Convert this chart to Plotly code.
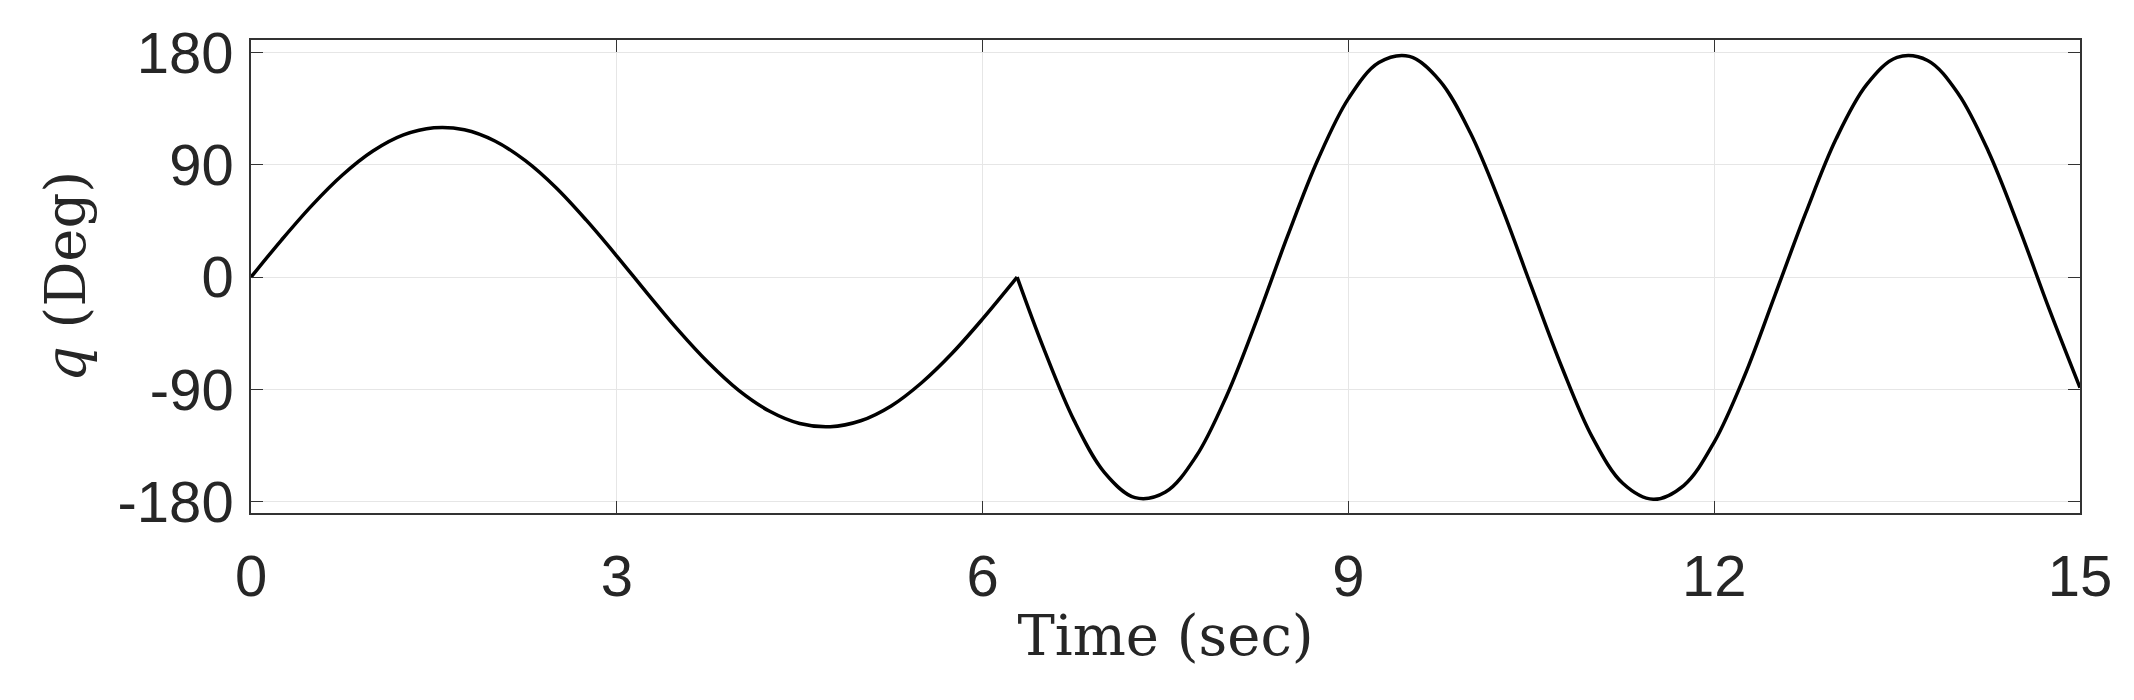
import plotly.graph_objects as go

t = [0, .25, .5, .75, 1, 1.25, 1.5, 1.75, 2, 2.25, 2.5, 2.75, 3, 3.25, 3.5, 3.75, 4, 4.25, 4.5, 4.75,
     5, 5.25, 5.5, 5.75, 6, 6.25, 6.283,
     6.5, 6.75, 7, 7.25, 7.5, 7.75, 8, 8.25, 8.5, 8.75, 9, 9.25, 9.5, 9.75, 10, 10.25, 10.5, 10.75,
     11, 11.25, 11.5, 11.75, 12, 12.25, 12.5, 12.75, 13, 13.25, 13.5, 13.75, 14, 14.25, 14.5, 14.75, 15]
q = [0, 29.7, 57.5, 81.8, 101, 113.9, 119.7, 118.1, 109.1, 93.3, 71.8, 45.6, 16.9, -13.0, -42.1, -68.5,
     -90.8, -107.3, -117.3, -119.9, -115.1, -103.2, -84.6, -61.0, -33.5, -4.0, 0,
     -56.9, -114.8, -156.6, -176.7, -172.2, -143.8, -95.4, -33.8, 32.6, 94.2, 143.0, 171.9, 176.9,
     157.3, 115.7, 57.9, -7.5, -72.0, -128.2, -165.2, -178.0, -167.0, -132.2, -78.8, -14.0, 51.2,
     110.8, 154.2, 176.1, 173.6, 147.2, 100.5, 39.7, -26.3, -88.6]
xticks = [0, 3, 6, 9, 12, 15]
yticks = [-180, -90, 0, 90, 180]
ylabels = ["-180", "-90", "0", "90", "180"]

fig = go.Figure(go.Scatter(x=t[:27], y=q[:27], mode="lines", line=dict(color="black", width=3.5, shape="spline")))
fig.add_trace(go.Scatter(x=t[26:], y=q[26:], mode="lines", line=dict(color="black", width=3.5, shape="spline")))
ax = dict(showline=True, linecolor="#333", linewidth=1.5, mirror="ticks", ticks="inside", ticklen=12,
          tickcolor="#333", showgrid=True, gridcolor="#e6e6e6", zeroline=False,
          tickfont=dict(family="Liberation Sans, Arial", size=58, color="#262626"))
fig.update_layout(
    width=2134, height=700, paper_bgcolor="white", plot_bgcolor="white", showlegend=False,
    margin=dict(l=243, r=62, t=20, b=195),
    xaxis=dict(ax, range=[0, 15], tickvals=xticks, ticklabelstandoff=12,
               title=dict(text="Time (sec)", font=dict(family="DejaVu Serif", size=56, color="#262626"), standoff=8)),
    yaxis=dict(ax, range=[-189, 190], tickvals=yticks, ticktext=ylabels, ticklabelstandoff=4,
               title=dict(text="<i>q</i> (Deg)", font=dict(family="DejaVu Serif", size=56, color="#262626"), standoff=14)),
)
fig.write_html("out.html")
